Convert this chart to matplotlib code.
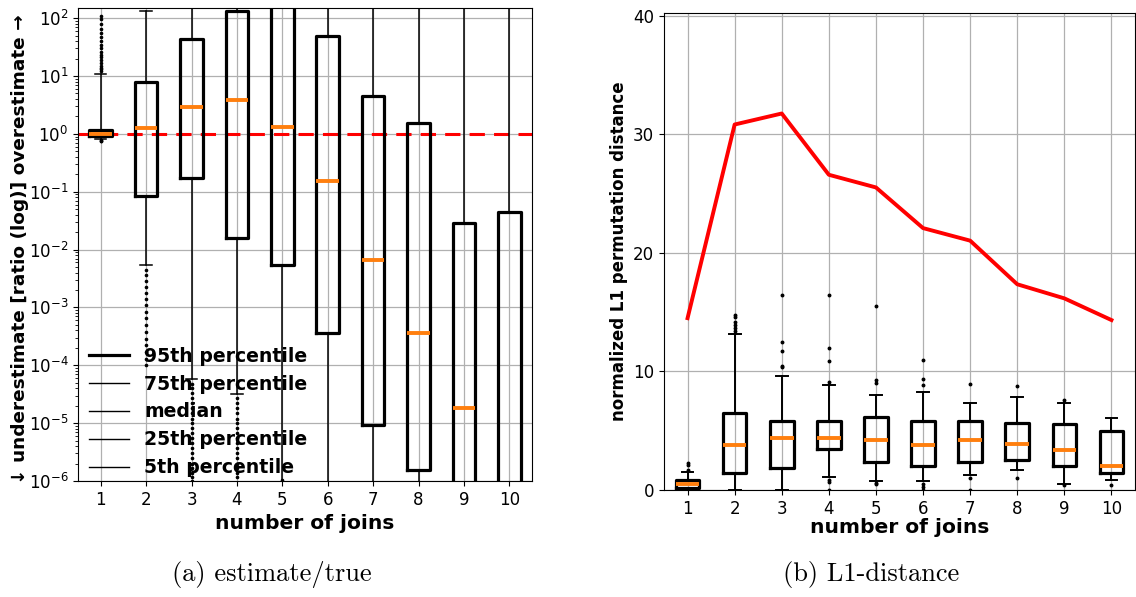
import matplotlib
matplotlib.use("Agg")
import matplotlib.pyplot as plt
from matplotlib.lines import Line2D

# ---- data: (a) estimate/true, log ratio per number of joins ----
joins = [1, 2, 3, 4, 5, 6, 7, 8, 9, 10]
ratio_p5 = [0.83, 5.4e-3, 5.7e-5, 3.2e-5, 1e-7, 1e-8, 1e-8, 1e-8, 1e-8, 1e-8]
ratio_q1 = [0.93, 0.084, 0.174, 0.0161, 5.5e-3, 3.55e-4, 9.3e-6, 1.57e-6, 1e-7, 1e-7]
ratio_med = [1.0, 1.24, 2.97, 3.87, 1.30, 0.156, 6.6e-3, 3.6e-4, 1.8e-5, 4e-7]
ratio_q3 = [1.17, 8.0, 43.0, 132.0, 400.0, 49.6, 4.48, 1.57, 0.029, 0.0442]
ratio_p95 = [10.9, 134.0, 1e3, 160.0, 1e4, 1e4, 1e3, 1e3, 1e3, 1e3]
ratio_fliers = [
    [0.78, 0.76, 0.74, 12, 13, 14, 15, 17, 19, 21, 23, 26, 30, 35, 40, 47, 55, 65, 80, 95, 110],
    [4.5e-3, 3.6e-3, 2.9e-3, 2.3e-3, 1.8e-3, 1.4e-3, 1.1e-3, 8.5e-4, 6.5e-4, 5e-4,
     3.8e-4, 2.9e-4, 2.2e-4, 1.7e-4, 1.3e-4, 1e-4],
    [4.8e-5, 4e-5, 3.3e-5, 2.7e-5, 2.2e-5, 1.8e-5, 1.5e-5, 1.2e-5, 1e-5, 8.2e-6, 6.7e-6,
     5.5e-6, 4.5e-6, 3.7e-6, 3e-6, 2.5e-6, 2e-6, 1.7e-6, 1.4e-6, 1.15e-6, 1e-6],
    [2.7e-5, 2.2e-5, 1.8e-5, 1.5e-5, 1.2e-5, 1e-5, 8.2e-6, 6.7e-6, 5.5e-6, 4.5e-6,
     3.7e-6, 3e-6, 2.5e-6, 2e-6, 1.7e-6, 1.4e-6, 1.15e-6],
    [1.05e-6], [], [], [], [], [],
]

# ---- data: (b) normalized L1 permutation distance ----
l1_mean = [14.5, 30.84, 31.77, 26.6, 25.53, 22.1, 21.04, 17.36, 16.17, 14.34]
l1_lo = [0.0, 0.0, 0.0, 1.1, 0.8, 0.8, 1.23, 1.71, 0.54, 0.81]
l1_q1 = [0.2, 1.43, 1.82, 3.48, 2.4, 2.0, 2.35, 2.55, 2.0, 1.46]
l1_med = [0.48, 3.76, 4.4, 4.4, 4.23, 3.78, 4.23, 3.9, 3.39, 2.05]
l1_q3 = [0.84, 6.5, 5.83, 5.8, 6.2, 5.8, 5.83, 5.63, 5.58, 4.96]
l1_hi = [1.5, 13.2, 9.6, 8.82, 8.0, 8.23, 7.34, 7.85, 7.31, 6.1]
l1_fliers = [
    [2.1, 2.3, 1.7],
    [13.4, 13.7, 13.9, 14.2, 14.6, 14.8],
    [10.4, 10.5, 11.7, 12.5, 16.45],
    [0.0, 0.67, 0.85, 9.13, 10.9, 12.0, 16.45],
    [0.53, 0.6, 9.0, 9.25, 15.5],
    [0.0, 0.25, 0.48, 8.82, 9.4, 11.0],
    [0.0, 1.0, 8.97],
    [1.04, 8.77],
    [0.4, 7.56],
    [0.42],
]

legend_labels = ["95th percentile", "75th percentile", "median",
                 "25th percentile", "5th percentile"]


def make_stats(lo, q1, med, q3, hi, fliers):
    return [dict(whislo=a, q1=b, med=c, q3=d, whishi=e, fliers=f)
            for a, b, c, d, e, f in zip(lo, q1, med, q3, hi, fliers)]


fig = plt.figure(figsize=(11.36, 5.97), dpi=100)
W, H = 1136, 597
ax1 = fig.add_axes([78 / W, 1 - 481 / H, (532 - 78) / W, (481 - 8) / H])
ax2 = fig.add_axes([664 / W, 1 - 490 / H, (1135 - 664) / W, (490 - 13) / H])

grid_kw = dict(color="#b0b0b0", linewidth=0.9)
med_kw = dict(color="#ff7f0e", linewidth=2.8)

# (a)
ax1.set_yscale("log")
ax1.grid(True, **grid_kw)
ax1.set_axisbelow(True)
ax1.axhline(1.0, color="red", linestyle="--", linewidth=2.2, dashes=(5, 3), zorder=1)
ax1.bxp(make_stats(ratio_p5, ratio_q1, ratio_med, ratio_q3, ratio_p95, ratio_fliers),
        positions=joins, widths=0.5,
        boxprops=dict(color="black", linewidth=2.3),
        whiskerprops=dict(color="black", linewidth=1.1),
        capprops=dict(color="black", linewidth=1.1),
        medianprops=med_kw,
        flierprops=dict(marker="o", markersize=1.6, markerfacecolor="black",
                        markeredgecolor="black", linestyle="none"))
ax1.set_xlim(0.5, 10.5)
ax1.set_ylim(1e-6, 150)
ax1.tick_params(labelsize=12)
ax1.set_xlabel("number of joins", fontsize=14.6, fontweight="bold")
ax1.set_ylabel("\u2193 underestimate [ratio (log)] overestimate \u2192",
               fontsize=13.3, fontweight="bold")
ax1.yaxis.set_label_coords(-0.108, 0.49)
handles = [Line2D([], [], color="black", linewidth=2.3)] + \
          [Line2D([], [], color="black", linewidth=1.0) for _ in range(4)]
ax1.legend(handles, legend_labels, loc="lower left", bbox_to_anchor=(0, -0.016),
           frameon=False, prop=dict(weight="bold", size=13.6), handlelength=2.1,
           labelspacing=0.47, borderaxespad=0.2, handletextpad=0.8)

# (b)
ax2.grid(True, **grid_kw)
ax2.set_axisbelow(True)
ax2.bxp(make_stats(l1_lo, l1_q1, l1_med, l1_q3, l1_hi, l1_fliers),
        positions=joins, widths=0.5,
        boxprops=dict(color="black", linewidth=2.3),
        whiskerprops=dict(color="black", linewidth=1.4),
        capprops=dict(color="black", linewidth=1.4),
        medianprops=med_kw,
        flierprops=dict(marker="o", markersize=1.8, markerfacecolor="black",
                        markeredgecolor="black", linestyle="none"))
ax2.plot(joins, l1_mean, color="red", linewidth=2.8)
ax2.set_xlim(0.5, 10.5)
ax2.set_ylim(0, 40.25)
ax2.set_yticks([0, 10, 20, 30, 40])
ax2.tick_params(labelsize=12)
ax2.set_xlabel("number of joins", fontsize=14.6, fontweight="bold", labelpad=0)
ax2.set_ylabel("normalized L1 permutation distance", fontsize=12, fontweight="bold")

fig.text(272 / W, 1 - 574 / H, "(a) estimate/true", family="cmr10",
         fontsize=19, ha="center", va="center")
fig.text(871 / W, 1 - 574 / H, "(b) L1-distance", family="cmr10",
         fontsize=19, ha="center", va="center")

fig.savefig("out.png", dpi=100)
